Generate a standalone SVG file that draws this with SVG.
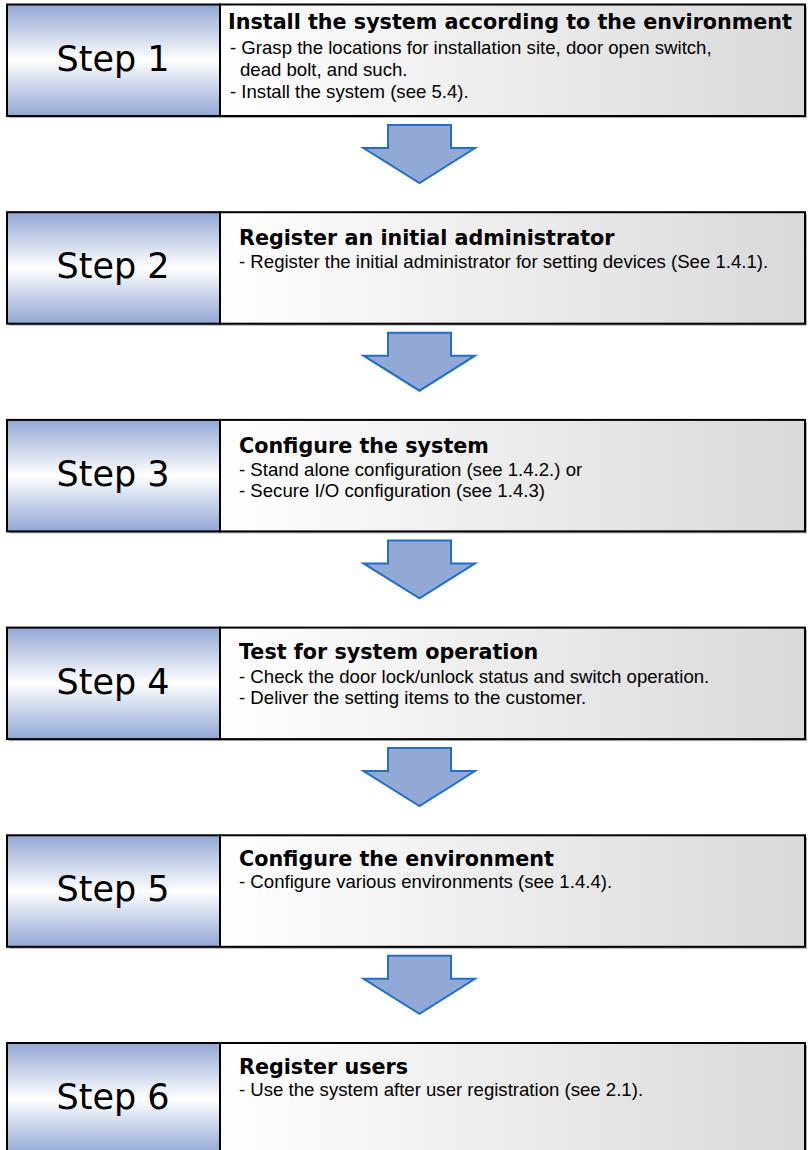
<svg xmlns="http://www.w3.org/2000/svg" width="808" height="1150" viewBox="0 0 808 1150">
<defs>
<linearGradient id="gL" x1="0" y1="0" x2="0" y2="1">
<stop offset="0" stop-color="#91a7d4"/>
<stop offset="0.5" stop-color="#ffffff"/>
<stop offset="1" stop-color="#91a7d4"/>
</linearGradient>
<linearGradient id="gR" x1="0" y1="0" x2="1" y2="0">
<stop offset="0" stop-color="#ffffff"/>
<stop offset="1" stop-color="#d9d9d9"/>
</linearGradient>
<path id="arrow" d="M388,125 H451 V148 H475 L419.5,183 L363.5,148 H388 Z"/>
</defs>
<style>
.sh{fill:#b0b0b0;}
.bl{fill:url(#gL);stroke:#000;stroke-width:2;}
.br{fill:url(#gR);stroke:#000;stroke-width:2;}
.st{font-family:"DejaVu Sans",Verdana,sans-serif;font-size:35px;fill:#000;text-anchor:middle;}
.tt{font-family:"DejaVu Sans",Verdana,sans-serif;font-size:20.7px;font-weight:bold;fill:#000;}
.bd{font-family:"Liberation Sans",Arial,sans-serif;font-size:18.6px;fill:#000;}
.ar{fill:#92a9d5;stroke:#1f6fd1;stroke-width:2;stroke-linejoin:miter;}
</style>
<g id="connectors">
<use href="#arrow" class="ar"/>
<use href="#arrow" class="ar" transform="translate(0,207.7)"/>
<use href="#arrow" class="ar" transform="translate(0,415.4)"/>
<use href="#arrow" class="ar" transform="translate(0,623.1)"/>
<use href="#arrow" class="ar" transform="translate(0,830.8)"/>
</g>
<g id="step1" transform="translate(0,4.5)">
<rect class="sh" x="9" y="2" width="798" height="111.5"/>
<rect class="bl" x="7" y="0" width="213" height="111.5"/>
<rect class="br" x="220" y="0" width="585" height="111.5"/>
<text class="st" x="113" y="66">Step 1</text>
<text class="tt" x="228" y="24.5">Install the system according to the environment</text>
<text class="bd" x="230" y="49">- Grasp the locations for installation site, door open switch,</text>
<text class="bd" x="240" y="71.5">dead bolt, and such.</text>
<text class="bd" x="230" y="93">- Install the system (see 5.4).</text>
</g>
<g id="step2" transform="translate(0,212.2)">
<rect class="sh" x="9" y="2" width="798" height="111.5"/>
<rect class="bl" x="7" y="0" width="213" height="111.5"/>
<rect class="br" x="220" y="0" width="585" height="111.5"/>
<text class="st" x="113" y="66">Step 2</text>
<text class="tt" x="239" y="33">Register an initial administrator</text>
<text class="bd" x="239" y="56">- Register the initial administrator for setting devices (See 1.4.1).</text>
</g>
<g id="step3" transform="translate(0,419.9)">
<rect class="sh" x="9" y="2" width="798" height="111.5"/>
<rect class="bl" x="7" y="0" width="213" height="111.5"/>
<rect class="br" x="220" y="0" width="585" height="111.5"/>
<text class="st" x="113" y="66">Step 3</text>
<text class="tt" x="239" y="33">Configure the system</text>
<text class="bd" x="239" y="56">- Stand alone configuration (see 1.4.2.) or</text>
<text class="bd" x="239" y="77">- Secure I/O configuration (see 1.4.3)</text>
</g>
<g id="step4" transform="translate(0,627.6)">
<rect class="sh" x="9" y="2" width="798" height="111.5"/>
<rect class="bl" x="7" y="0" width="213" height="111.5"/>
<rect class="br" x="220" y="0" width="585" height="111.5"/>
<text class="st" x="113" y="66">Step 4</text>
<text class="tt" x="239" y="31">Test for system operation</text>
<text class="bd" x="239" y="55">- Check the door lock/unlock status and switch operation.</text>
<text class="bd" x="239" y="76">- Deliver the setting items to the customer.</text>
</g>
<g id="step5" transform="translate(0,835.3)">
<rect class="sh" x="9" y="2" width="798" height="111.5"/>
<rect class="bl" x="7" y="0" width="213" height="111.5"/>
<rect class="br" x="220" y="0" width="585" height="111.5"/>
<text class="st" x="113" y="66">Step 5</text>
<text class="tt" x="239" y="31">Configure the environment</text>
<text class="bd" x="239" y="53">- Configure various environments (see 1.4.4).</text>
</g>
<g id="step6" transform="translate(0,1043)">
<rect class="sh" x="9" y="2" width="798" height="111.5"/>
<rect class="bl" x="7" y="0" width="213" height="111.5"/>
<rect class="br" x="220" y="0" width="585" height="111.5"/>
<text class="st" x="113" y="66">Step 6</text>
<text class="tt" x="239" y="31">Register users</text>
<text class="bd" x="239" y="53">- Use the system after user registration (see 2.1).</text>
</g>
</svg>
